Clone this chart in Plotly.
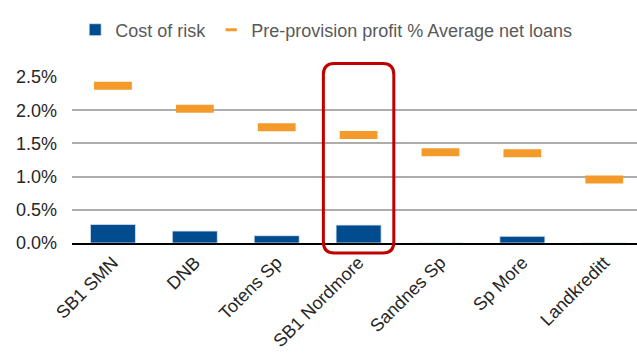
import plotly.graph_objects as go

categories = ["SB1 SMN", "DNB", "Totens Sp", "SB1 Nordmore", "Sandnes Sp", "Sp More", "Landkreditt"]
cost_of_risk = [0.28, 0.18, 0.11, 0.27, 0.0, 0.10, 0.0]
ppp_avg_loans = [2.37, 2.02, 1.745, 1.625, 1.365, 1.35, 0.955]
y_ticks = [0.0, 0.5, 1.0, 1.5, 2.0, 2.5]
highlight = "SB1 Nordmore"

BLUE = "#004C8F"
ORANGE = "#F39A2B"
FONT = "Liberation Sans, Arial, sans-serif"

X_MAX = 6.4  # plot area is cropped on the right in the reference

fig = go.Figure()
fig.add_trace(go.Bar(
    x=categories, y=cost_of_risk, name="Cost of risk",
    marker=dict(color=BLUE, line=dict(color="#DCE6F0", width=0.8)),
))
fig.add_trace(go.Scatter(
    x=categories, y=ppp_avg_loans, mode="markers", showlegend=False,
    name="Pre-provision profit % Average net loans", cliponaxis=False,
    marker=dict(symbol="line-ew", size=27, line=dict(color=ORANGE, width=8)),
))
# legend proxy for the dash symbol
fig.add_trace(go.Scatter(
    x=[None], y=[None], mode="markers", name="Pre-provision profit % Average net loans",
    marker=dict(symbol="line-ew", size=8, line=dict(color=ORANGE, width=3)),
))

# highlight box around one category (rounded rectangle, paper coords)
L, R, T, B = 72, 637, 77, 243
W, H = R - L, B - T
idx = categories.index(highlight)
span = X_MAX + 0.5
x0 = (idx + 0.5 - 0.43) / span
x1 = (idx + 0.5 + 0.43) / span
y1 = (B - 63.5) / H
y0 = (B - 253) / H
rx, ry = 11 / W, 11 / H
path = (f"M {x0+rx},{y1} L {x1-rx},{y1} Q {x1},{y1} {x1},{y1-ry} "
        f"L {x1},{y0+ry} Q {x1},{y0} {x1-rx},{y0} L {x0+rx},{y0} "
        f"Q {x0},{y0} {x0},{y0+ry} L {x0},{y1-ry} Q {x0},{y1} {x0+rx},{y1} Z")
fig.add_shape(type="path", path=path, xref="paper", yref="paper",
              line=dict(color="#C00000", width=3), layer="above")

fig.update_layout(
    width=637, height=353,
    margin=dict(l=L, r=0, t=T, b=353 - B),
    plot_bgcolor="white", paper_bgcolor="white",
    font=dict(family=FONT, size=18, color="#262626"),
    bargap=0.45,
    showlegend=True,
    legend=dict(orientation="h", xref="container", yref="container",
                x=0.118, y=0.915, xanchor="left", yanchor="middle",
                font=dict(size=18, color="#595959"), traceorder="normal",
                itemclick=False),
    xaxis=dict(showline=True, linecolor="black", linewidth=2, tickangle=-45,
               range=[-0.5, X_MAX], automargin=False,
               showgrid=False, ticks="", tickfont=dict(size=18, color="#262626")),
    yaxis=dict(range=[0, 2.5], tickvals=y_ticks, ticktext=[f"{v:.1f}%" for v in y_ticks],
               showgrid=True, gridcolor="#ADADAD", gridwidth=1.5, zeroline=False,
               automargin=False,
               ticklabelstandoff=14, tickfont=dict(size=18, color="#262626")),
)

fig.write_html("out.html")
